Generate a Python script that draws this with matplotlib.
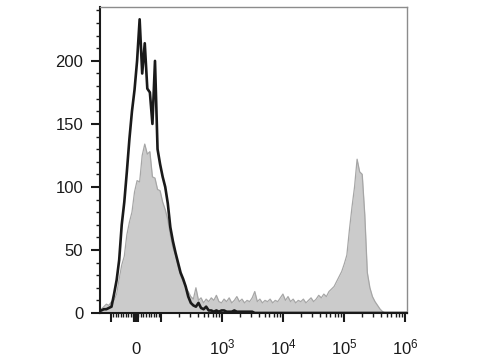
import numpy as np
import matplotlib
matplotlib.use('Agg')
import matplotlib.pyplot as plt
from matplotlib.ticker import FixedLocator, FixedFormatter

plt.rcParams['font.family'] = ['Liberation Sans', 'DejaVu Sans']
plt.rcParams['mathtext.fontset'] = 'custom'
plt.rcParams['mathtext.rm'] = 'Liberation Sans'
plt.rcParams['mathtext.it'] = 'Liberation Sans:italic'

# events per channel bin (120 bins across the plotted range)
control = [2, 3, 3, 4, 5, 15, 26, 42, 70, 88,
           112, 138, 160, 177, 200, 233, 190, 214, 178, 175,
           150, 200, 130, 118, 108, 100, 87, 68, 57, 48,
           40, 32, 27, 21, 13, 8, 6, 5, 8, 4,
           3, 5, 2, 2, 1, 2, 1, 2, 2, 1,
           1, 1, 2, 1, 1, 1, 1, 1, 1, 1,
           0, 0, 0, 0, 0, 0, 0, 0, 0, 0,
           0, 0, 0, 0, 0, 0, 0, 0, 0, 0,
           0, 0, 0, 0, 0, 0, 0, 0, 0, 0,
           0, 0, 0, 0, 0, 0, 0, 0, 0, 0,
           0, 0, 0, 0, 0, 0, 0, 0, 0, 0,
           0, 0, 0, 0, 0, 0, 0, 0, 0, 0]
stained = [3, 5, 7, 6, 9, 10, 15, 27, 38, 45,
           62, 72, 80, 96, 105, 104, 125, 134, 126, 128,
           108, 107, 98, 97, 88, 82, 74, 62, 52, 46,
           37, 30, 25, 20, 17, 13, 11, 20, 10, 12,
           8, 11, 9, 12, 10, 14, 9, 8, 11, 9,
           12, 8, 10, 13, 9, 11, 8, 10, 9, 12,
           17, 9, 11, 8, 10, 9, 11, 8, 10, 9,
           12, 15, 10, 13, 9, 11, 8, 10, 9, 11,
           8, 10, 12, 9, 11, 14, 12, 15, 13, 17,
           19, 21, 25, 29, 33, 39, 46, 66, 84, 100,
           122, 112, 110, 78, 32, 20, 13, 9, 6, 3,
           1, 0, 0, 0, 0, 0, 0, 0, 0, 0]

x_range = (-151, 1.08e6)
y_range = (0, 243)
y_major = [0, 50, 100, 150, 200]
y_minor = [v for v in range(10, 241, 10) if v % 50]
x_major = [-100, -8, -6, -4, -2, 0, 2, 4, 6, 8, 100, 1e3, 1e4, 1e5, 1e6]
x_major_labels = ['', '', '', '', '', '0', '', '', '', '', '',
                  '$10^3$', '$10^4$', '$10^5$', '$10^6$']
x_minor = ([-v for v in range(10, 100, 10)] + list(range(10, 100, 10))
           + [m * 10 ** e for e in range(2, 6) for m in range(2, 10)])

fig = plt.figure(figsize=(4.8, 3.6), dpi=100)
ax = fig.add_axes([0.2083, 0.1306, 0.6396, 0.8508])
ax.set_xscale('symlog', linthresh=100, linscale=0.37)
ax.set_xlim(*x_range)
ax.set_ylim(*y_range)

# bin centres, evenly spaced on the display scale
tr = ax.xaxis.get_transform()
lo, hi = tr.transform(np.array(x_range))
n = len(stained)
edges_t = np.linspace(lo, hi, n + 1)
centres = tr.inverted().transform((edges_t[:-1] + edges_t[1:]) / 2)

ax.fill_between(centres, stained, 0, color='#cbcbcb', lw=0, zorder=1)
ax.plot(centres, stained, color='#a6a6a6', lw=0.9, zorder=2)
ax.plot(centres, control, color='#1a1a1a', lw=1.9, zorder=3)

ax.xaxis.set_major_locator(FixedLocator(x_major))
ax.xaxis.set_major_formatter(FixedFormatter(x_major_labels))
ax.xaxis.set_minor_locator(FixedLocator(x_minor))
ax.yaxis.set_major_locator(FixedLocator(y_major))
ax.yaxis.set_minor_locator(FixedLocator(y_minor))

ax.tick_params(axis='both', which='major', direction='out', length=6.5,
               width=1.5, color='#1a1a1a', labelsize=12, labelcolor='#1a1a1a')
ax.tick_params(axis='both', which='minor', direction='out', length=3,
               width=1.0, color='#1a1a1a')
ax.tick_params(axis='x', which='major', pad=23)
ax.tick_params(axis='y', which='major', pad=5.5)
for lab in ax.get_xticklabels():
    lab.set_verticalalignment('baseline')

for side in ['left', 'bottom']:
    ax.spines[side].set_color('#1a1a1a')
    ax.spines[side].set_linewidth(1.5)
for side in ['top', 'right']:
    ax.spines[side].set_color('#8c8c8c')
    ax.spines[side].set_linewidth(1.0)

fig.savefig('out.png', dpi=100)
